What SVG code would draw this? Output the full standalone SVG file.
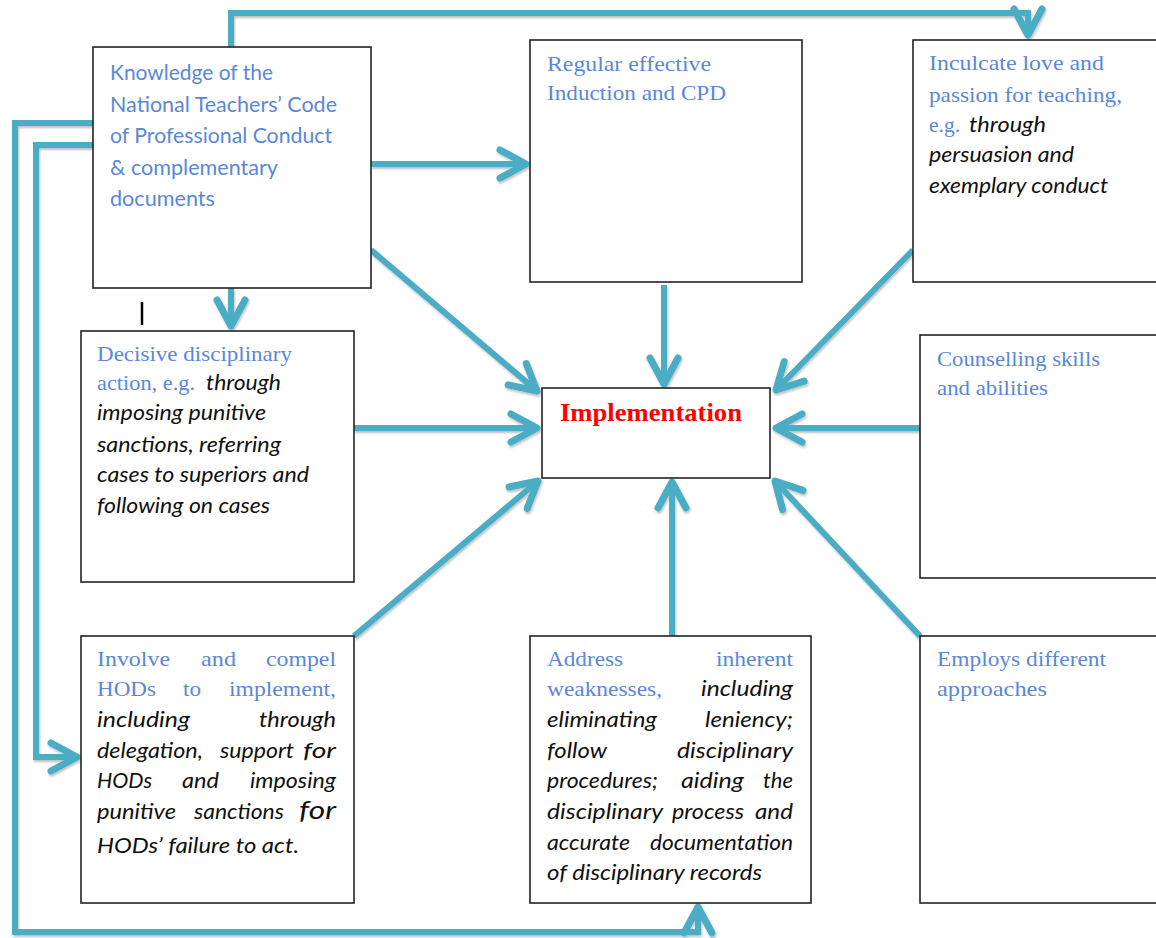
<svg xmlns="http://www.w3.org/2000/svg" width="1156" height="938" viewBox="0 0 1156 938">
<style>
.box{fill:#fff;stroke:#222;stroke-width:1.6}
.b{font-family:"Liberation Serif","Times New Roman",serif;font-size:22px;fill:#5A87DA}
.s{font-family:Lato,"Liberation Sans",sans-serif;font-size:21px;fill:#5A87DA}
.i{font-family:Lato,"Liberation Sans",sans-serif;font-style:italic;font-size:21px;fill:#111}
.imp{font-family:"Liberation Serif","Times New Roman",serif;font-weight:bold;font-size:26px;fill:#FF0000}
.c{fill:none;stroke:#4BACC6;stroke-width:6;stroke-linejoin:miter}
</style>
<defs>
<filter id="sh" x="-5%" y="-5%" width="110%" height="110%">
<feDropShadow dx="1" dy="2" stdDeviation="1.2" flood-color="#000" flood-opacity="0.25"/>
</filter>
<marker id="ah" markerUnits="userSpaceOnUse" viewBox="-34 -18 40 36" refX="0" refY="0" markerWidth="40" markerHeight="36" orient="auto" overflow="visible">
<path d="M-26,-14 L0,0 L-26,14" fill="none" stroke="#4BACC6" stroke-width="7" stroke-linecap="round" stroke-linejoin="round"/>
</marker>
</defs>

<g id="connectors" filter="url(#sh)">
<path class="c" d="M231,47 V13 H1028 V35" marker-end="url(#ah)"/>
<path class="c" d="M93,123 H15 V932 H698 V907" marker-end="url(#ah)"/>
<path class="c" d="M93,145 H36 V757 H77" marker-end="url(#ah)"/>
<path class="c" d="M371,164 H526" marker-end="url(#ah)"/>
<path class="c" d="M231,288 V326" marker-end="url(#ah)"/>
<path class="c" d="M371,250 L537,391" marker-end="url(#ah)"/>
<path class="c" d="M664,285 V384" marker-end="url(#ah)"/>
<path class="c" d="M913,250 L776,390" marker-end="url(#ah)"/>
<path class="c" d="M354,428 H537" marker-end="url(#ah)"/>
<path class="c" d="M920,428 H776" marker-end="url(#ah)"/>
<path class="c" d="M354,636 L538,481" marker-end="url(#ah)"/>
<path class="c" d="M672,636 V482" marker-end="url(#ah)"/>
<path class="c" d="M920,636 L775,481" marker-end="url(#ah)"/>
</g>

<line x1="142" y1="302" x2="142" y2="325" stroke="#000" stroke-width="2.5"/>

<g id="knowledge">
<rect class="box" x="93" y="47" width="278" height="241"/>
<text class="s" x="110" y="80" textLength="163" lengthAdjust="spacingAndGlyphs">Knowledge of the</text>
<text class="s" x="110" y="112" textLength="227" lengthAdjust="spacingAndGlyphs">National Teachers’ Code</text>
<text class="s" x="110" y="143" textLength="222" lengthAdjust="spacingAndGlyphs">of Professional Conduct</text>
<text class="s" x="110" y="175" textLength="168" lengthAdjust="spacingAndGlyphs">&amp; complementary</text>
<text class="s" x="110" y="206" textLength="105" lengthAdjust="spacingAndGlyphs">documents</text>
</g>

<g id="regular">
<rect class="box" x="530" y="40" width="272" height="242"/>
<text class="b" x="547" y="71" textLength="164" lengthAdjust="spacingAndGlyphs">Regular effective</text>
<text class="b" x="547" y="100" textLength="179" lengthAdjust="spacingAndGlyphs">Induction and CPD</text>
</g>

<g id="inculcate">
<rect class="box" x="913" y="40" width="250" height="242"/>
<text class="b" x="929" y="70" textLength="175" lengthAdjust="spacingAndGlyphs">Inculcate love and</text>
<text class="b" x="929" y="102" textLength="193" lengthAdjust="spacingAndGlyphs">passion for teaching,</text>
<text class="b" x="929" y="132" textLength="31" lengthAdjust="spacingAndGlyphs">e.g.</text>
<text class="i" x="969" y="132" textLength="77" lengthAdjust="spacingAndGlyphs">through</text>
<text class="i" x="929" y="162" textLength="145" lengthAdjust="spacingAndGlyphs">persuasion and</text>
<text class="i" x="929" y="193" textLength="179" lengthAdjust="spacingAndGlyphs">exemplary conduct</text>
</g>

<g id="decisive">
<rect class="box" x="81" y="331" width="273" height="251"/>
<text class="b" x="97" y="361" textLength="195" lengthAdjust="spacingAndGlyphs">Decisive  disciplinary</text>
<text class="b" x="97" y="390" textLength="98" lengthAdjust="spacingAndGlyphs">action, e.g.</text>
<text class="i" x="206" y="390" textLength="75" lengthAdjust="spacingAndGlyphs">through</text>
<text class="i" x="97" y="420" textLength="169" lengthAdjust="spacingAndGlyphs">imposing punitive</text>
<text class="i" x="97" y="452" textLength="184" lengthAdjust="spacingAndGlyphs">sanctions, referring</text>
<text class="i" x="97" y="482" textLength="212" lengthAdjust="spacingAndGlyphs">cases to superiors and</text>
<text class="i" x="97" y="513" textLength="173" lengthAdjust="spacingAndGlyphs">following on cases</text>
</g>

<g id="implementation">
<rect class="box" x="542" y="388" width="228" height="90"/>
<text class="imp" x="560" y="421" textLength="182" lengthAdjust="spacingAndGlyphs">Implementation</text>
</g>

<g id="counselling">
<rect class="box" x="920" y="335" width="243" height="243"/>
<text class="b" x="937" y="366" textLength="163" lengthAdjust="spacingAndGlyphs">Counselling skills</text>
<text class="b" x="937" y="395" textLength="111" lengthAdjust="spacingAndGlyphs">and abilities</text>
</g>

<g id="involve">
<rect class="box" x="81" y="636" width="273" height="267"/>
<text class="b" x="97" y="666" textLength="73" lengthAdjust="spacingAndGlyphs">Involve</text>
<text class="b" x="201" y="666" textLength="35" lengthAdjust="spacingAndGlyphs">and</text>
<text class="b" x="266" y="666" textLength="70" lengthAdjust="spacingAndGlyphs">compel</text>
<text class="b" x="97" y="696" textLength="59" lengthAdjust="spacingAndGlyphs">HODs</text>
<text class="b" x="183" y="696" textLength="18" lengthAdjust="spacingAndGlyphs">to</text>
<text class="b" x="229" y="696" textLength="107" lengthAdjust="spacingAndGlyphs">implement,</text>
<text class="i" x="97" y="727" textLength="93" lengthAdjust="spacingAndGlyphs">including</text>
<text class="i" x="259" y="727" textLength="77" lengthAdjust="spacingAndGlyphs">through</text>
<text class="i" x="97" y="758" textLength="106" lengthAdjust="spacingAndGlyphs">delegation,</text>
<text class="i" x="220" y="758" textLength="74" lengthAdjust="spacingAndGlyphs">support</text>
<text class="i" x="303" y="758" textLength="33" lengthAdjust="spacingAndGlyphs">for</text>
<text class="i" x="97" y="788" textLength="55" lengthAdjust="spacingAndGlyphs">HODs</text>
<text class="i" x="182" y="788" textLength="37" lengthAdjust="spacingAndGlyphs">and</text>
<text class="i" x="250" y="788" textLength="86" lengthAdjust="spacingAndGlyphs">imposing</text>
<text class="i" x="97" y="819" textLength="79" lengthAdjust="spacingAndGlyphs">punitive</text>
<text class="i" x="194" y="819" textLength="90" lengthAdjust="spacingAndGlyphs">sanctions</text>
<text class="i" x="299" y="819" textLength="37" lengthAdjust="spacingAndGlyphs" style="font-size:25px">for</text>
<text class="i" x="97" y="853" textLength="202" lengthAdjust="spacingAndGlyphs">HODs’ failure to act.</text>
</g>

<g id="address">
<rect class="box" x="530" y="636" width="281" height="267"/>
<text class="b" x="547" y="666" textLength="76" lengthAdjust="spacingAndGlyphs">Address</text>
<text class="b" x="716" y="666" textLength="77" lengthAdjust="spacingAndGlyphs">inherent</text>
<text class="b" x="547" y="696" textLength="115" lengthAdjust="spacingAndGlyphs">weaknesses,</text>
<text class="i" x="701" y="696" textLength="92" lengthAdjust="spacingAndGlyphs">including</text>
<text class="i" x="547" y="727" textLength="110" lengthAdjust="spacingAndGlyphs">eliminating</text>
<text class="i" x="705" y="727" textLength="88" lengthAdjust="spacingAndGlyphs">leniency;</text>
<text class="i" x="547" y="758" textLength="60" lengthAdjust="spacingAndGlyphs">follow</text>
<text class="i" x="677" y="758" textLength="116" lengthAdjust="spacingAndGlyphs">disciplinary</text>
<text class="i" x="547" y="788" textLength="111" lengthAdjust="spacingAndGlyphs">procedures;</text>
<text class="i" x="681" y="788" textLength="63" lengthAdjust="spacingAndGlyphs">aiding</text>
<text class="i" x="763" y="788" textLength="30" lengthAdjust="spacingAndGlyphs">the</text>
<text class="i" x="547" y="819" textLength="116" lengthAdjust="spacingAndGlyphs">disciplinary</text>
<text class="i" x="672" y="819" textLength="72" lengthAdjust="spacingAndGlyphs">process</text>
<text class="i" x="755" y="819" textLength="38" lengthAdjust="spacingAndGlyphs">and</text>
<text class="i" x="547" y="850" textLength="83" lengthAdjust="spacingAndGlyphs">accurate</text>
<text class="i" x="650" y="850" textLength="143" lengthAdjust="spacingAndGlyphs">documentation</text>
<text class="i" x="547" y="880" textLength="215" lengthAdjust="spacingAndGlyphs">of disciplinary records</text>
</g>

<g id="employs">
<rect class="box" x="920" y="636" width="243" height="267"/>
<text class="b" x="937" y="666" textLength="169" lengthAdjust="spacingAndGlyphs">Employs different</text>
<text class="b" x="937" y="696" textLength="110" lengthAdjust="spacingAndGlyphs">approaches</text>
</g>
</svg>
